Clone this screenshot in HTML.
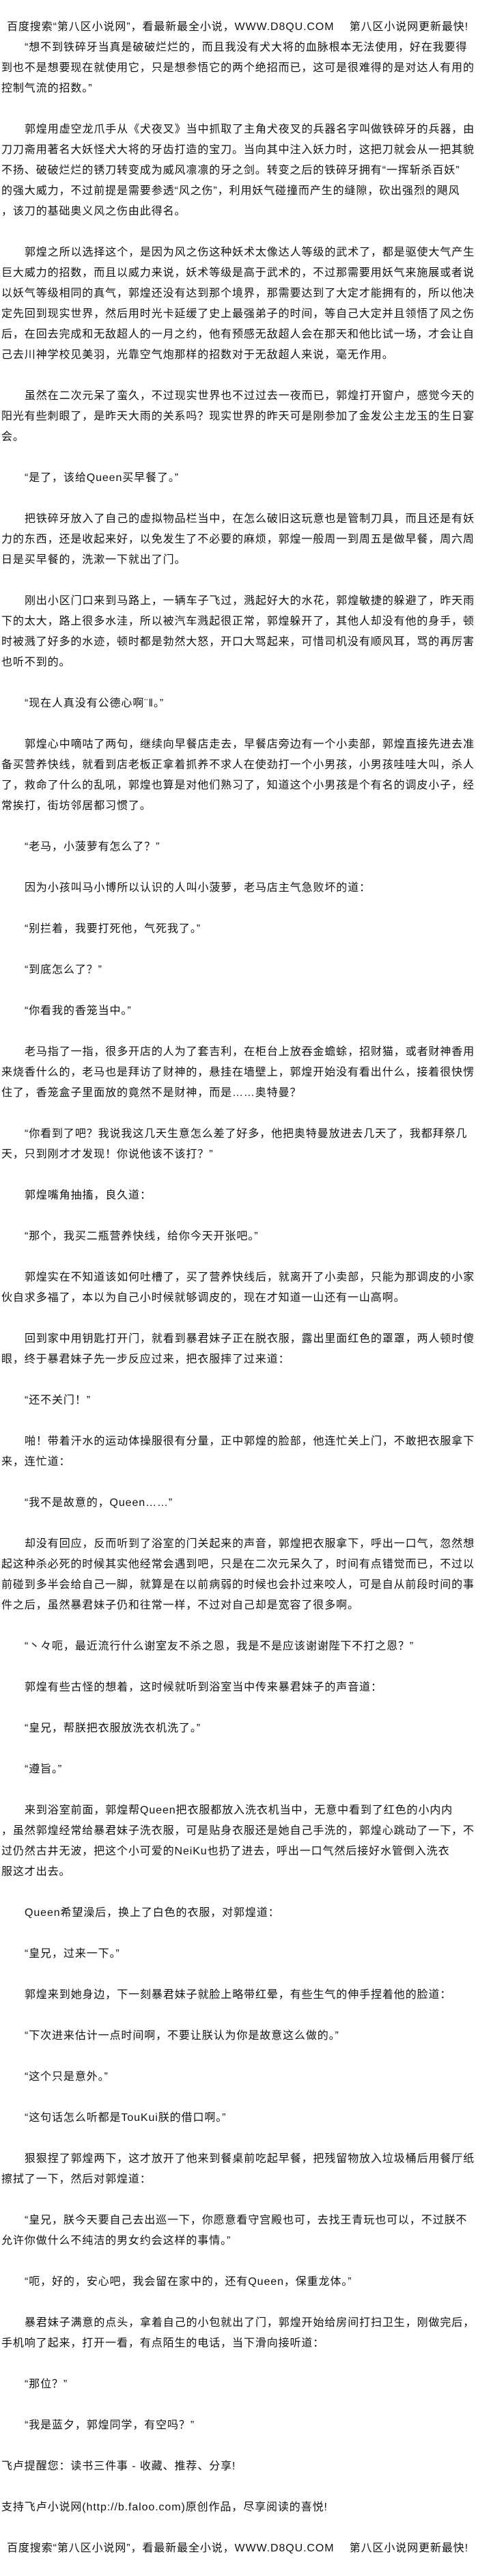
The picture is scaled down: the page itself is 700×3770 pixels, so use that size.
<!DOCTYPE html>
<html><head><meta charset="utf-8"><style>
html,body{margin:0;padding:0;background:#fff;}
body{width:700px;height:3770px;position:relative;overflow:hidden;font-family:"Liberation Sans","WenQuanYi Zen Hei","Noto Sans CJK SC",sans-serif;font-size:16px;letter-spacing:0.9px;color:#111;}
.l{position:absolute;left:2px;height:30px;line-height:30px;white-space:nowrap;}
.i{left:36px;}
.h{left:10px;}
</style></head><body>
<div class="l h" style="top:25px">百度搜索“第八区小说网”，看最新最全小说，WWW.D8QU.COM　 第八区小说网更新最快!</div>
<div class="l i" style="top:55px">“想不到铁碎牙当真是破破烂烂的，而且我没有犬大将的血脉根本无法使用，好在我要得</div>
<div class="l" style="top:85px">到也不是想要现在就使用它，只是想参悟它的两个绝招而已，这可是很难得的是对达人有用的</div>
<div class="l" style="top:115px">控制气流的招数。”</div>
<div class="l i" style="top:175px">郭煌用虚空龙爪手从《犬夜叉》当中抓取了主角犬夜叉的兵器名字叫做铁碎牙的兵器，由</div>
<div class="l" style="top:205px">刀刀斋用著名大妖怪犬大将的牙齿打造的宝刀。当向其中注入妖力时，这把刀就会从一把其貌</div>
<div class="l" style="top:235px">不扬、破破烂烂的锈刀转变成为威风凛凛的牙之剑。转变之后的铁碎牙拥有“一挥斩杀百妖”</div>
<div class="l" style="top:265px">的强大威力，不过前提是需要参透“风之伤”，利用妖气碰撞而产生的缝隙，砍出强烈的飓风</div>
<div class="l" style="top:295px">，该刀的基础奥义风之伤由此得名。</div>
<div class="l i" style="top:355px">郭煌之所以选择这个，是因为风之伤这种妖术太像达人等级的武术了，都是驱使大气产生</div>
<div class="l" style="top:385px">巨大威力的招数，而且以威力来说，妖术等级是高于武术的，不过那需要用妖气来施展或者说</div>
<div class="l" style="top:415px">以妖气等级相同的真气，郭煌还没有达到那个境界，那需要达到了大定才能拥有的，所以他决</div>
<div class="l" style="top:445px">定先回到现实世界，然后用时光卡延缓了史上最强弟子的时间，等自己大定并且领悟了风之伤</div>
<div class="l" style="top:475px">后，在回去完成和无敌超人的一月之约，他有预感无敌超人会在那天和他比试一场，才会让自</div>
<div class="l" style="top:505px">己去川神学校见美羽，光靠空气炮那样的招数对于无敌超人来说，毫无作用。</div>
<div class="l i" style="top:565px">虽然在二次元呆了蛮久，不过现实世界也不过过去一夜而已，郭煌打开窗户，感觉今天的</div>
<div class="l" style="top:595px">阳光有些刺眼了，是昨天大雨的关系吗？现实世界的昨天可是刚参加了金发公主龙玉的生日宴</div>
<div class="l" style="top:625px">会。</div>
<div class="l i" style="top:685px">“是了，该给Queen买早餐了。”</div>
<div class="l i" style="top:745px">把铁碎牙放入了自己的虚拟物品栏当中，在怎么破旧这玩意也是管制刀具，而且还是有妖</div>
<div class="l" style="top:775px">力的东西，还是收起来好，以免发生了不必要的麻烦，郭煌一般周一到周五是做早餐，周六周</div>
<div class="l" style="top:805px">日是买早餐的，洗漱一下就出了门。</div>
<div class="l i" style="top:865px">刚出小区门口来到马路上，一辆车子飞过，溅起好大的水花，郭煌敏捷的躲避了，昨天雨</div>
<div class="l" style="top:895px">下的太大，路上很多水洼，所以被汽车溅起很正常，郭煌躲开了，其他人却没有他的身手，顿</div>
<div class="l" style="top:925px">时被溅了好多的水迹，顿时都是勃然大怒，开口大骂起来，可惜司机没有顺风耳，骂的再厉害</div>
<div class="l" style="top:955px">也听不到的。</div>
<div class="l i" style="top:1015px">“现在人真没有公德心啊¨‖。”</div>
<div class="l i" style="top:1075px">郭煌心中嘀咕了两句，继续向早餐店走去，早餐店旁边有一个小卖部，郭煌直接先进去准</div>
<div class="l" style="top:1105px">备买营养快线，就看到店老板正拿着抓养不求人在使劲打一个小男孩，小男孩哇哇大叫，杀人</div>
<div class="l" style="top:1135px">了，救命了什么的乱吼，郭煌也算是对他们熟习了，知道这个小男孩是个有名的调皮小子，经</div>
<div class="l" style="top:1165px">常挨打，街坊邻居都习惯了。</div>
<div class="l i" style="top:1225px">“老马，小菠萝有怎么了？”</div>
<div class="l i" style="top:1285px">因为小孩叫马小博所以认识的人叫小菠萝，老马店主气急败坏的道：</div>
<div class="l i" style="top:1345px">“别拦着，我要打死他，气死我了。”</div>
<div class="l i" style="top:1405px">“到底怎么了？”</div>
<div class="l i" style="top:1465px">“你看我的香笼当中。”</div>
<div class="l i" style="top:1525px">老马指了一指，很多开店的人为了套吉利，在柜台上放吞金蟾蜍，招财猫，或者财神香用</div>
<div class="l" style="top:1555px">来烧香什么的，老马也是拜访了财神的，悬挂在墙壁上，郭煌开始没有看出什么，接着很快愣</div>
<div class="l" style="top:1585px">住了，香笼盒子里面放的竟然不是财神，而是……奥特曼？</div>
<div class="l i" style="top:1645px">“你看到了吧？我说我这几天生意怎么差了好多，他把奥特曼放进去几天了，我都拜祭几</div>
<div class="l" style="top:1675px">天，只到刚才才发现！你说他该不该打？”</div>
<div class="l i" style="top:1735px">郭煌嘴角抽搐，良久道：</div>
<div class="l i" style="top:1795px">“那个，我买二瓶营养快线，给你今天开张吧。”</div>
<div class="l i" style="top:1855px">郭煌实在不知道该如何吐槽了，买了营养快线后，就离开了小卖部，只能为那调皮的小家</div>
<div class="l" style="top:1885px">伙自求多福了，本以为自己小时候就够调皮的，现在才知道一山还有一山高啊。</div>
<div class="l i" style="top:1945px">回到家中用钥匙打开门，就看到暴君妹子正在脱衣服，露出里面红色的罩罩，两人顿时傻</div>
<div class="l" style="top:1975px">眼，终于暴君妹子先一步反应过来，把衣服摔了过来道：</div>
<div class="l i" style="top:2035px">“还不关门！”</div>
<div class="l i" style="top:2095px">啪！带着汗水的运动体操服很有分量，正中郭煌的脸部，他连忙关上门，不敢把衣服拿下</div>
<div class="l" style="top:2125px">来，连忙道：</div>
<div class="l i" style="top:2185px">“我不是故意的，Queen……”</div>
<div class="l i" style="top:2245px">却没有回应，反而听到了浴室的门关起来的声音，郭煌把衣服拿下，呼出一口气，忽然想</div>
<div class="l" style="top:2275px">起这种杀必死的时候其实他经常会遇到吧，只是在二次元呆久了，时间有点错觉而已，不过以</div>
<div class="l" style="top:2305px">前碰到多半会给自己一脚，就算是在以前病弱的时候也会扑过来咬人，可是自从前段时间的事</div>
<div class="l" style="top:2335px">件之后，虽然暴君妹子仍和往常一样，不过对自己却是宽容了很多啊。</div>
<div class="l i" style="top:2395px">“丶々呃，最近流行什么谢室友不杀之恩，我是不是应该谢谢陛下不打之恩？”</div>
<div class="l i" style="top:2455px">郭煌有些古怪的想着，这时候就听到浴室当中传来暴君妹子的声音道：</div>
<div class="l i" style="top:2515px">“皇兄，帮朕把衣服放洗衣机洗了。”</div>
<div class="l i" style="top:2575px">“遵旨。”</div>
<div class="l i" style="top:2635px">来到浴室前面，郭煌帮Queen把衣服都放入洗衣机当中，无意中看到了红色的小内内</div>
<div class="l" style="top:2665px">，虽然郭煌经常给暴君妹子洗衣服，可是贴身衣服还是她自己手洗的，郭煌心跳动了一下，不</div>
<div class="l" style="top:2695px">过仍然古井无波，把这个小可爱的NeiKu也扔了进去，呼出一口气然后接好水管倒入洗衣</div>
<div class="l" style="top:2725px">服这才出去。</div>
<div class="l i" style="top:2785px">Queen希望澡后，换上了白色的衣服，对郭煌道：</div>
<div class="l i" style="top:2845px">“皇兄，过来一下。”</div>
<div class="l i" style="top:2905px">郭煌来到她身边，下一刻暴君妹子就脸上略带红晕，有些生气的伸手捏着他的脸道：</div>
<div class="l i" style="top:2965px">“下次进来估计一点时间啊，不要让朕认为你是故意这么做的。”</div>
<div class="l i" style="top:3025px">“这个只是意外。”</div>
<div class="l i" style="top:3085px">“这句话怎么听都是TouKui朕的借口啊。”</div>
<div class="l i" style="top:3145px">狠狠捏了郭煌两下，这才放开了他来到餐桌前吃起早餐，把残留物放入垃圾桶后用餐厅纸</div>
<div class="l" style="top:3175px">擦拭了一下，然后对郭煌道：</div>
<div class="l i" style="top:3235px">“皇兄，朕今天要自己去出巡一下，你愿意看守宫殿也可，去找王青玩也可以，不过朕不</div>
<div class="l" style="top:3265px">允许你做什么不纯洁的男女约会这样的事情。”</div>
<div class="l i" style="top:3325px">“呃，好的，安心吧，我会留在家中的，还有Queen，保重龙体。”</div>
<div class="l i" style="top:3385px">暴君妹子满意的点头，拿着自己的小包就出了门，郭煌开始给房间打扫卫生，刚做完后，</div>
<div class="l" style="top:3415px">手机响了起来，打开一看，有点陌生的电话，当下滑向接听道：</div>
<div class="l i" style="top:3475px">“那位？”</div>
<div class="l i" style="top:3535px">“我是蓝夕，郭煌同学，有空吗？”</div>
<div class="l" style="top:3595px">飞卢提醒您：读书三件事 - 收藏、推荐、分享!</div>
<div class="l" style="top:3655px">支持飞卢小说网(http://b.faloo.com)原创作品，尽享阅读的喜悦!</div>
<div class="l h" style="top:3715px">百度搜索“第八区小说网”，看最新最全小说，WWW.D8QU.COM　 第八区小说网更新最快!</div>
</body></html>
